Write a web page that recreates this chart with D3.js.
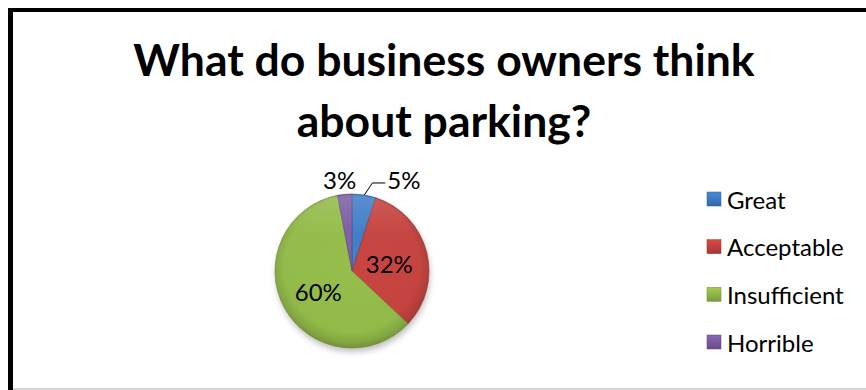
<!DOCTYPE html>
<html>
<head>
<meta charset="utf-8">
<script src="https://cdn.jsdelivr.net/npm/d3@7"></script>
<style>
  html, body { margin: 0; padding: 0; background: #fff; }
  svg { display: block; }
</style>
</head>
<body>
<svg id="chart" width="866" height="390"></svg>
<script>
// Survey answers, in drawing order (clockwise from 12 o'clock)
const categories = ["Great", "Acceptable", "Insufficient", "Horrible"];
const shares = [5, 32, 60, 3];
const colors = ["#3F7CC6", "#C4423E", "#92BA48", "#7A5CA3"];
const titleLines = ["What do business owners think", "about parking?"];

const svg = d3.select("#chart");
const font = "Lato, 'Open Sans', sans-serif";

// chart frame
svg.append("rect").attr("x", 0).attr("y", 0).attr("width", 866).attr("height", 390).attr("fill", "#fff");
svg.append("line").attr("x1", 10.5).attr("x2", 10.5).attr("y1", 8).attr("y2", 390)
  .attr("stroke", "#000").attr("stroke-width", 5);
svg.append("line").attr("x1", 8).attr("x2", 866).attr("y1", 10).attr("y2", 10)
  .attr("stroke", "#000").attr("stroke-width", 4);
svg.append("line").attr("x1", 13).attr("x2", 866).attr("y1", 389).attr("y2", 389)
  .attr("stroke", "#c8c8c8").attr("stroke-width", 1.5);

// title
svg.append("text")
  .attr("text-anchor", "middle")
  .attr("font-family", font).attr("font-weight", "bold").attr("font-size", 44.5)
  .attr("fill", "#000")
  .selectAll("tspan").data(titleLines).join("tspan")
  .attr("x", 444).attr("y", (d, i) => 76 + i * 61).text(d => d);

// gradients
const defs = svg.append("defs");
colors.forEach((c, i) => {
  const g = defs.append("radialGradient").attr("id", "g" + i)
    .attr("gradientUnits", "userSpaceOnUse")
    .attr("cx", 0).attr("cy", -6).attr("r", 84);
  const base = d3.color(c);
  g.append("stop").attr("offset", "0%").attr("stop-color", base.brighter(0.05));
  g.append("stop").attr("offset", "80%").attr("stop-color", base);
  g.append("stop").attr("offset", "92%").attr("stop-color", base.darker(0.3));
  g.append("stop").attr("offset", "100%").attr("stop-color", base.darker(0.75));
});
const hi = defs.append("linearGradient").attr("id", "hi")
  .attr("x1", 0).attr("y1", 0).attr("x2", 0).attr("y2", 1);
hi.append("stop").attr("offset", "0%").attr("stop-color", "#fff").attr("stop-opacity", 0.15);
hi.append("stop").attr("offset", "25%").attr("stop-color", "#fff").attr("stop-opacity", 0.02);
hi.append("stop").attr("offset", "100%").attr("stop-color", "#fff").attr("stop-opacity", 0);
const blur = defs.append("filter").attr("id", "shadow").attr("x", "-20%").attr("y", "-20%")
  .attr("width", "140%").attr("height", "140%");
blur.append("feGaussianBlur").attr("stdDeviation", 3);

// pie
const cx = 352, cy = 271, R = 77;
const pie = d3.pie().sort(null).value(d => d)(shares);
const arc = d3.arc().innerRadius(0).outerRadius(R);
const g = svg.append("g").attr("transform", `translate(${cx},${cy})`);

g.append("circle").attr("cx", 1).attr("cy", 4).attr("r", R)
  .attr("fill", "#000").attr("opacity", 0.25).attr("filter", "url(#shadow)");

g.selectAll("path.slice").data(pie).join("path")
  .attr("class", "slice")
  .attr("d", arc)
  .attr("fill", (d, i) => `url(#g${i})`)
  .attr("stroke", (d, i) => d3.color(colors[i]).darker(0.9))
  .attr("stroke-width", 0.6);

g.append("circle").attr("r", R - 1).attr("fill", "url(#hi)").attr("pointer-events", "none");

// percentage labels
const lblSize = 24;
const inside = d3.arc().innerRadius(R * 0.5).outerRadius(R * 0.5);
[1, 2].forEach(i => {
  const c = inside.centroid(pie[i]);
  g.append("text").attr("x", c[0]).attr("y", c[1] + 2)
    .attr("text-anchor", "middle").attr("dominant-baseline", "central")
    .attr("font-family", font).attr("font-size", lblSize).attr("fill", "#000")
    .text(shares[i] + "%");
});

// outside labels for the two small slices
const outer = d3.arc().innerRadius(R + 2).outerRadius(R + 2);
const p0 = outer.centroid(pie[0]);
g.append("polyline")
  .attr("points", [[p0[0], p0[1] + 2], [p0[0] + 8, p0[1] - 10], [p0[0] + 21, p0[1] - 10]].map(p => p.join(",")).join(" "))
  .attr("fill", "none").attr("stroke", "#000").attr("stroke-width", 1);
g.append("text").attr("x", p0[0] + 23).attr("y", p0[1] - 13)
  .attr("dominant-baseline", "central")
  .attr("font-family", font).attr("font-size", lblSize).attr("fill", "#000")
  .text(shares[0] + "%");
const p3 = outer.centroid(pie[3]);
g.append("text").attr("x", p3[0] - 5).attr("y", p3[1] - 13)
  .attr("text-anchor", "middle").attr("dominant-baseline", "central")
  .attr("font-family", font).attr("font-size", lblSize).attr("fill", "#000")
  .text(shares[3] + "%");

// legend
colors.forEach((c, i) => {
  const lg = defs.append("linearGradient").attr("id", "lg" + i)
    .attr("x1", 0).attr("y1", 0).attr("x2", 0).attr("y2", 1);
  lg.append("stop").attr("offset", "0%").attr("stop-color", d3.color(c).brighter(0.3));
  lg.append("stop").attr("offset", "100%").attr("stop-color", d3.color(c).darker(0.5));
});
const ly = d3.scalePoint().domain(categories).range([199, 342]);
const items = svg.append("g").selectAll("g").data(categories).join("g")
  .attr("transform", d => `translate(707,${ly(d)})`);
items.append("rect").attr("x", 0).attr("y", -7).attr("width", 14).attr("height", 14)
  .attr("fill", (d, i) => `url(#lg${i})`)
  .attr("stroke", (d, i) => d3.color(colors[i]).darker(0.8)).attr("stroke-width", 0.5);
items.append("text").attr("x", 20).attr("y", 0)
  .attr("dominant-baseline", "central")
  .attr("font-family", font).attr("font-size", 24).attr("fill", "#000")
  .text(d => d);
</script>
</body>
</html>
